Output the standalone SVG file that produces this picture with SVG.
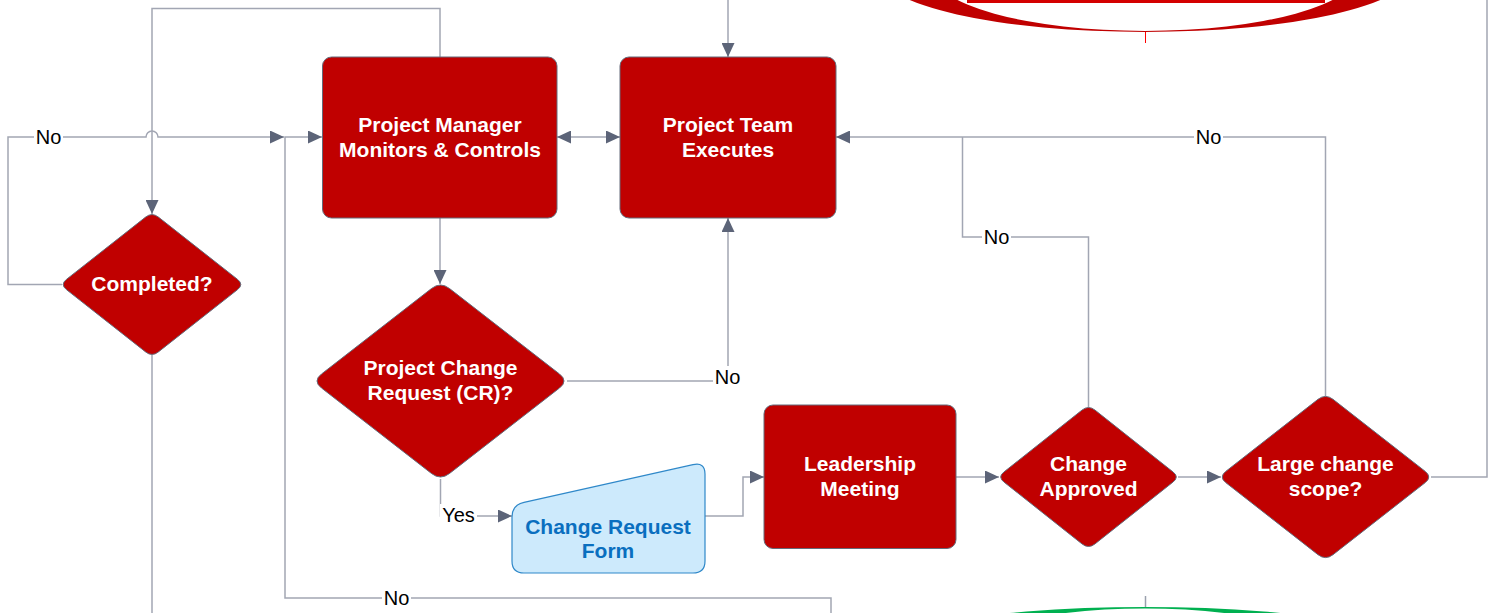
<svg xmlns="http://www.w3.org/2000/svg" width="1503" height="613" viewBox="0 0 1503 613">
<style>
.node{fill:#c00000;stroke:#646a7a;stroke-width:1}
.form{fill:#cdeafc;stroke:#2f88c9;stroke-width:1.2}
.t{font-family:"Liberation Sans",Arial,sans-serif;font-weight:bold;font-size:21px;fill:#ffffff;text-anchor:middle}
.tf{font-family:"Liberation Sans",Arial,sans-serif;font-weight:bold;font-size:21px;fill:#0a6fbf;text-anchor:middle}
.c{fill:none;stroke:#a2a6b3;stroke-width:1.5}
.lbl{font-family:"Liberation Sans",Arial,sans-serif;font-size:20px;fill:#000000;text-anchor:middle}
.bg{fill:#ffffff}
</style>
<defs>
<marker id="arr" markerWidth="14" markerHeight="13" refX="14" refY="6.5" orient="auto-start-reverse" markerUnits="userSpaceOnUse">
<path d="M0,0 L14,6.5 L0,13 Z" fill="#5c6478"/>
</marker>
</defs>
<rect width="1503" height="613" fill="#ffffff"/>

<g id="connectors">
<path class="c" d="M440 57 V8.5 H152 V214" marker-end="url(#arr)"/>
<path class="c" d="M62 284.5 H8 V137 H146 A6 6 0 0 1 158 137 H284" marker-end="url(#arr)"/>
<path class="c" d="M831 613 V598 H285 V137 H322" marker-end="url(#arr)"/>
<path class="c" d="M152 355 V613"/>
<path class="c" d="M557 137 H620" marker-start="url(#arr)" marker-end="url(#arr)"/>
<path class="c" d="M440 218 V284" marker-end="url(#arr)"/>
<path class="c" d="M567 381 H728 V218" marker-end="url(#arr)"/>
<path class="c" d="M440.5 479 V516 H512" marker-end="url(#arr)"/>
<path class="c" d="M705 516 H743 V477 H764" marker-end="url(#arr)"/>
<path class="c" d="M956 477 H999" marker-end="url(#arr)"/>
<path class="c" d="M1178 477 H1221" marker-end="url(#arr)"/>
<path class="c" d="M1088.5 407 V237 H962.5 V137"/>
<path class="c" d="M1325.5 396 V137 H836" marker-end="url(#arr)"/>
<path class="c" d="M1431 477 H1487 V0"/>
<path class="c" d="M728 0 V57" marker-end="url(#arr)"/>
<line x1="1145.5" y1="596" x2="1145.5" y2="607" stroke="#9aa0ad" stroke-width="1.5"/>
<line x1="1145.5" y1="32" x2="1145.5" y2="43" stroke="#ff0000" stroke-width="1"/>
<g id="labels">
<rect class="bg" x="34" y="126" width="29" height="22"/><text class="lbl" x="48.5" y="144">No</text>
<rect class="bg" x="382" y="587" width="29" height="22"/><text class="lbl" x="396.5" y="605">No</text>
<rect class="bg" x="713" y="366" width="29" height="21"/><text class="lbl" x="727.5" y="383.5">No</text>
<rect class="bg" x="440" y="504" width="37" height="22"/><text class="lbl" x="458.5" y="522">Yes</text>
<rect class="bg" x="982" y="226" width="29" height="22"/><text class="lbl" x="996.5" y="244">No</text>
<rect class="bg" x="1194" y="126" width="29" height="22"/><text class="lbl" x="1208.5" y="144">No</text>
</g>
</g>

<g id="start-terminal">
<path fill="#c00000" fill-rule="evenodd" d="M879 -28 A266 60 0 1 0 1411 -28 A266 60 0 1 0 879 -28 Z M932 -28 A213 59 0 1 0 1358 -28 A213 59 0 1 0 932 -28 Z"/>
<rect x="967" y="0" width="358" height="3" fill="#d40000"/>
</g>

<g id="end-terminal">
<path fill="#00b050" fill-rule="evenodd" d="M835 667 A310 60 0 1 0 1455 667 A310 60 0 1 0 835 667 Z M938 666.5 A207 58 0 1 0 1352 666.5 A207 58 0 1 0 938 666.5 Z"/>
</g>

<g id="pm-monitors">
<rect class="node" x="322.5" y="57" width="234.5" height="161" rx="9"/>
<text class="t" x="440" y="132">Project Manager</text>
<text class="t" x="440" y="157">Monitors &amp; Controls</text>
</g>

<g id="team-executes">
<rect class="node" x="620" y="57" width="216" height="161" rx="9"/>
<text class="t" x="728" y="132">Project Team</text>
<text class="t" x="728" y="157">Executes</text>
</g>

<g id="completed">
<path class="node" d="M145.6 217.1 Q152 212 158.4 217.1 L237.6 279.4 Q244 284.5 237.6 289.6 L158.4 351.9 Q152 357 145.6 351.9 L66.4 289.6 Q60 284.5 66.4 279.4 Z"/>
<text class="t" x="152" y="291">Completed?</text>
</g>

<g id="change-request">
<path class="node" d="M431.5 288.5 Q440.5 281.5 449.5 288.5 L559.5 374 Q568.5 381 559.5 388 L449.5 473.5 Q440.5 480.5 431.5 473.5 L321.5 388 Q312.5 381 321.5 374 Z"/>
<text class="t" x="440.5" y="375">Project Change</text>
<text class="t" x="440.5" y="400">Request (CR)?</text>
</g>

<g id="cr-form">
<path class="form" d="M512 517 L512 561 Q512 573 524 573 L693 573 Q705 573 705 561 L705 474 Q705 462 693 464.7 L524 502.3 Q512 505 512 517 Z"/>
<text class="tf" x="608" y="534">Change Request</text>
<text class="tf" x="608" y="558">Form</text>
</g>

<g id="leadership">
<rect class="node" x="764" y="405" width="192" height="143.5" rx="9"/>
<text class="t" x="860" y="471">Leadership</text>
<text class="t" x="860" y="496">Meeting</text>
</g>

<g id="change-approved">
<path class="node" d="M1082.1 410 Q1088.5 405 1094.9 410 L1173.1 472 Q1179.5 477 1173.1 482 L1094.9 544 Q1088.5 549 1082.1 544 L1003.9 482 Q997.5 477 1003.9 472 Z"/>
<text class="t" x="1088.5" y="471">Change</text>
<text class="t" x="1088.5" y="496">Approved</text>
</g>

<g id="large-change">
<path class="node" d="M1318 399.3 Q1325.5 393.5 1333 399.3 L1425 471.2 Q1432.5 477 1425 482.8 L1333 554.7 Q1325.5 560.5 1318 554.7 L1226 482.8 Q1218.5 477 1226 471.2 Z"/>
<text class="t" x="1325.5" y="471">Large change</text>
<text class="t" x="1325.5" y="496">scope?</text>
</g>
</svg>
